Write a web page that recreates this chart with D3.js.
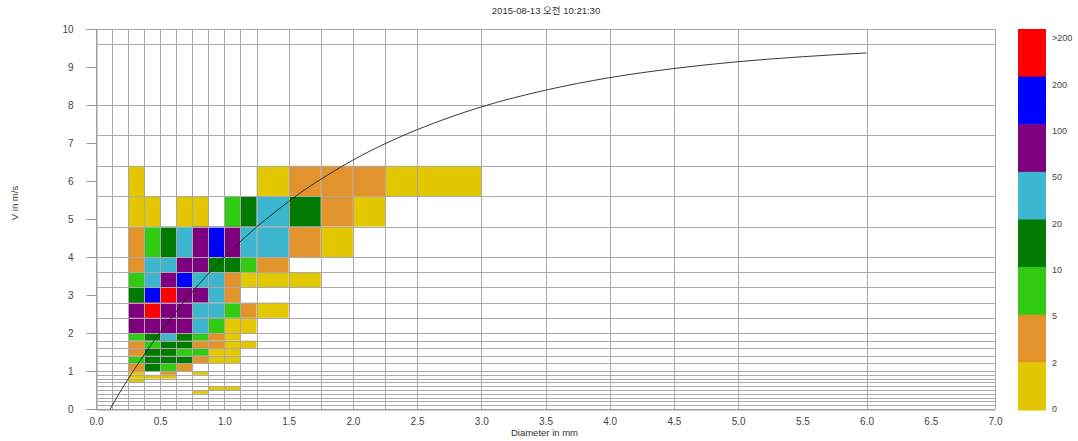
<!DOCTYPE html>
<html><head><meta charset="utf-8">
<script src="https://cdn.jsdelivr.net/npm/d3@7"></script>
<style>
html,body{margin:0;padding:0;background:#fff;}
svg{display:block;font-family:"Liberation Sans",Arial,"Noto Sans CJK KR",sans-serif;}
</style></head>
<body><svg id="chart" width="1078" height="441"></svg>
<script>
const title = "2015-08-13  오전 10:21:30";
const xLabel = "Diameter in mm";
const yLabel = "V in m/s";
// Parsivel class edges (grid lines)
const diameterEdges = [0,0.125,0.25,0.375,0.5,0.625,0.75,0.875,1.0,1.125,1.25,1.5,1.75,2.0,2.25,2.5,3.0,3.5,4.0,4.5,5.0,6.0,7.0];
const velocityEdges = [0,0.1,0.2,0.3,0.4,0.5,0.6,0.7,0.8,0.9,1.0,1.2,1.4,1.6,1.8,2.0,2.4,2.8,3.2,3.6,4.0,4.8,5.6,6.4,7.2,8.0,9.6,10];
const xTicks = [0,0.5,1,1.5,2,2.5,3,3.5,4,4.5,5,5.5,6,6.5,7];
const yTicks = [0,1,2,3,4,5,6,7,8,9,10];
// [diameter class, velocity class, drop count]
const cells = [
 [2,22,1],[10,22,1],[11,22,3],[12,22,3],[13,22,3],[14,22,1],[15,22,1],
 [2,21,1],[3,21,1],[5,21,1],[6,21,1],[8,21,7],[9,21,15],[10,21,30],[11,21,15],[12,21,3],[13,21,1],
 [2,20,3],[3,20,7],[4,20,15],[5,20,30],[6,20,70],[7,20,150],[8,20,70],[9,20,30],[10,20,30],[11,20,3],[12,20,1],
 [2,19,3],[3,19,30],[4,19,30],[5,19,70],[6,19,70],[7,19,15],[8,19,15],[9,19,7],[10,19,3],
 [2,18,7],[3,18,30],[4,18,70],[5,18,150],[6,18,30],[7,18,30],[8,18,3],[9,18,1],[10,18,1],[11,18,1],
 [2,17,15],[3,17,150],[4,17,250],[5,17,70],[6,17,70],[7,17,30],[8,17,3],
 [2,16,70],[3,16,250],[4,16,70],[5,16,70],[6,16,30],[7,16,30],[8,16,7],[9,16,3],[10,16,1],
 [2,15,70],[3,15,70],[4,15,70],[5,15,70],[6,15,30],[7,15,7],[8,15,1],[9,15,1],
 [2,14,7],[3,14,15],[4,14,30],[5,14,15],[6,14,7],[7,14,3],[8,14,1],
 [2,13,3],[3,13,7],[4,13,15],[5,13,15],[6,13,3],[7,13,3],[8,13,1],[9,13,1],
 [2,12,3],[3,12,15],[4,12,15],[5,12,7],[6,12,7],[7,12,1],[8,12,1],
 [2,11,7],[3,11,15],[4,11,15],[5,11,15],[6,11,3],[7,11,1],[8,11,1],
 [2,10,3],[3,10,15],[4,10,7],[5,10,3],
 [2,9,1],[4,9,3],[6,9,1],
 [2,8,1],[3,8,1],[4,8,1],
 [2,7,1],
 [7,5,1],[8,5,1],
 [6,4,1]
];
// fall-speed reference curve
const curveD = [0.11,0.2,0.3,0.4,0.5,0.6,0.7,0.8,0.9,1.0,1.2,1.4,1.6,1.8,2.0,2.25,2.5,2.75,3.0,3.5,4.0,4.5,5.0,5.5,6.0];
const curveV = [0.0,0.52,1.05,1.55,2.02,2.46,2.88,3.28,3.65,4.0,4.64,5.2,5.71,6.15,6.55,6.98,7.35,7.67,7.95,8.39,8.72,8.96,9.14,9.27,9.37];
// colour classes
const legendLabels = [">200","200","100","50","20","10","5","2","0"];
const classBreaks = [2,5,10,20,50,100,200];
const classColors = ["#e3c700","#e3932c","#30cb12","#007a00","#3db6cf","#7e007e","#0000ff","#ff0000"];

const svg = d3.select("#chart");
const x = d3.scaleLinear().domain([0,7]).range([96,995]);
const y = d3.scaleLinear().domain([0,10]).range([409,29]);
const color = d3.scaleThreshold().domain(classBreaks).range(classColors);

// cells
svg.append("g").selectAll("rect").data(cells).join("rect")
  .attr("x", d => x(diameterEdges[d[0]]))
  .attr("width", d => x(diameterEdges[d[0]+1]) - x(diameterEdges[d[0]]))
  .attr("y", d => y(velocityEdges[d[1]+1]))
  .attr("height", d => y(velocityEdges[d[1]]) - y(velocityEdges[d[1]+1]))
  .attr("fill", d => color(d[2]));

// grid
const grid = svg.append("g").attr("stroke","#a9a9a9").attr("stroke-width",1).attr("shape-rendering","crispEdges");
grid.selectAll("line.v").data(diameterEdges).join("line").attr("class","v")
  .attr("x1", d => Math.round(x(d))+0.5).attr("x2", d => Math.round(x(d))+0.5)
  .attr("y1", y(0)).attr("y2", y(10));
grid.selectAll("line.h").data(velocityEdges).join("line").attr("class","h")
  .attr("x1", x(0)).attr("x2", x(7))
  .attr("y1", d => Math.round(y(d))+0.5).attr("y2", d => Math.round(y(d))+0.5);

// axes
const yAxis = svg.append("g").attr("transform",`translate(${Math.round(x(0))+0.5},0)`)
  .call(d3.axisLeft(y).tickValues(yTicks).tickFormat(d3.format("d")).tickSize(10).tickPadding(13));
const xAxis = svg.append("g").attr("transform",`translate(0,${Math.round(y(0))+0.5})`)
  .call(d3.axisBottom(x).tickValues(xTicks).tickFormat(d3.format(".1f")).tickSize(0).tickPadding(8));
[yAxis,xAxis].forEach(a=>{
  a.select(".domain").attr("stroke","#999");
  a.selectAll(".tick line").attr("stroke","#999");
  a.selectAll("text").attr("fill","#444").style("font-size","10px").style("font-family","'Liberation Sans',Arial,sans-serif");
});

// curve
svg.append("path")
  .datum(curveD.map((d,i)=>[d,curveV[i]]))
  .attr("fill","none").attr("stroke","#222").attr("stroke-width",0.9)
  .attr("d", d3.line().x(d=>x(d[0])).y(d=>y(d[1])).curve(d3.curveMonotoneX));

// labels
svg.append("text").attr("x",546).attr("y",14).attr("text-anchor","middle")
  .attr("fill","#333").style("font-size","9.5px").text(title);
svg.append("text").attr("x",578).attr("y",436).attr("text-anchor","end")
  .attr("fill","#333").style("font-size","9.5px").text(xLabel);
svg.append("text").attr("transform","translate(18,203) rotate(-90)").attr("text-anchor","middle")
  .attr("fill","#333").style("font-size","9.5px").text(yLabel);

// legend
const legTop = 29, legBottom = 410;
const seg = (legBottom - legTop) / classColors.length;
const leg = svg.append("g");
leg.selectAll("rect").data(classColors.slice().reverse()).join("rect")
  .attr("x",1018).attr("width",28)
  .attr("y",(d,i)=>legTop + i*seg).attr("height",seg+0.5)
  .attr("fill",d=>d);
const labelScale = d3.scalePoint().domain(legendLabels).range([38,409]);
leg.selectAll("text").data(legendLabels).join("text")
  .attr("x",1052).attr("y",d=>labelScale(d)).attr("dy","0.35em")
  .attr("fill","#444").style("font-size","9px").text(d=>d);
</script>
</body></html>
